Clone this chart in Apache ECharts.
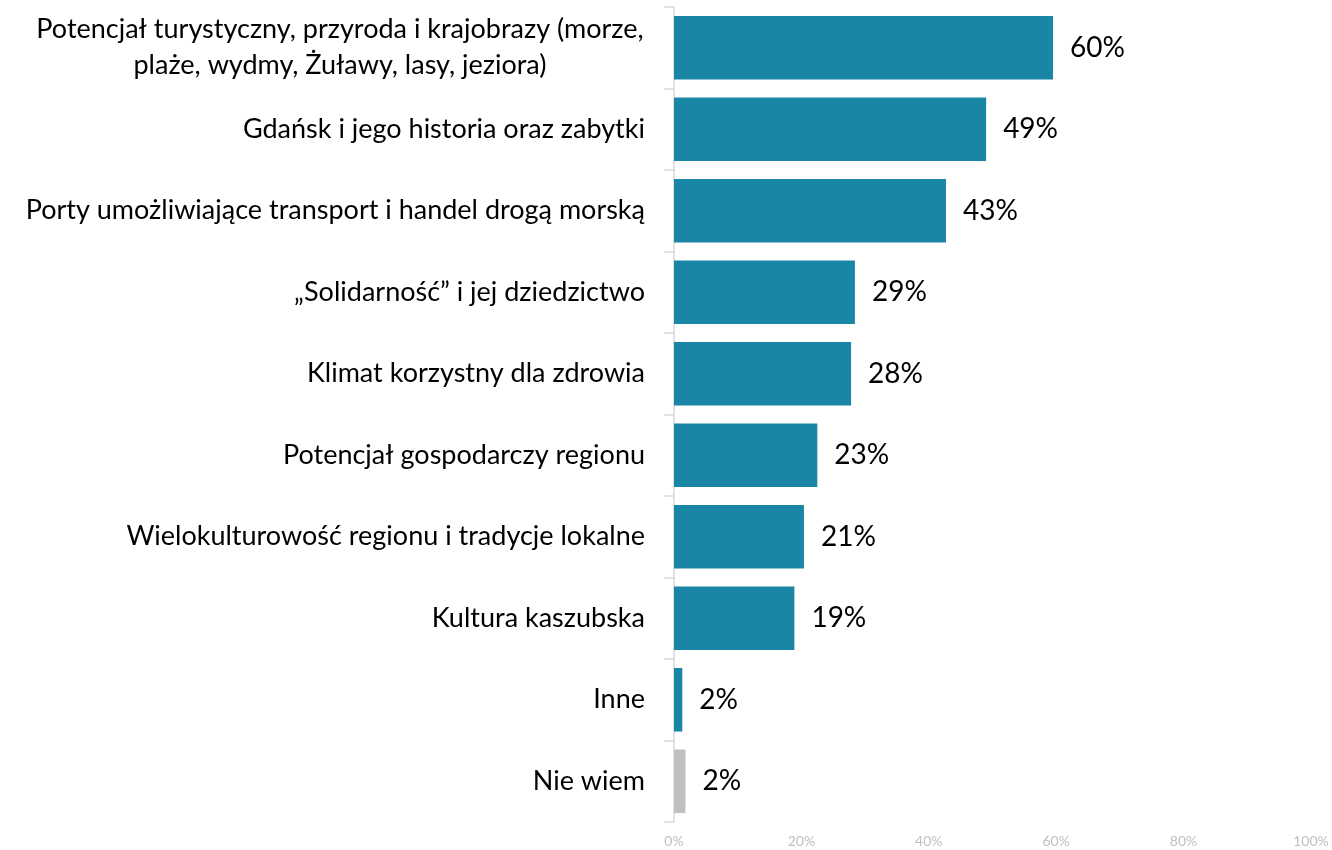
<!DOCTYPE html>
<html>
<head>
<meta charset="utf-8">
<script src="https://cdn.jsdelivr.net/npm/echarts@6/dist/echarts.min.js"></script>
<style>
html,body{margin:0;padding:0;background:#fff;}
#chart{width:1332px;height:850px;}
</style>
</head>
<body>
<div id="chart"></div>
<script>
const categories = [
  "Potencjał turystyczny, przyroda i krajobrazy (morze,\nplaże, wydmy, Żuławy, lasy, jeziora)",
  "Gdańsk i jego historia oraz zabytki",
  "Porty umożliwiające transport i handel drogą morską",
  "„Solidarność” i jej dziedzictwo",
  "Klimat korzystny dla zdrowia",
  "Potencjał gospodarczy regionu",
  "Wielokulturowość regionu i tradycje lokalne",
  "Kultura kaszubska",
  "Inne",
  "Nie wiem"
];
const values = [59.5, 49.0, 42.7, 28.4, 27.8, 22.5, 20.4, 18.9, 1.3, 1.8];
const valueLabels = ["60%", "49%", "43%", "29%", "28%", "23%", "21%", "19%", "2%", "2%"];
const barColors = ["#1A86A5", "#1A86A5", "#1A86A5", "#1A86A5", "#1A86A5", "#1A86A5", "#1A86A5", "#1A86A5", "#1A86A5", "#BFBFBF"];
const xTickValues = [0, 20, 40, 60, 80, 100];

const FONT = "Lato";
const CAT_SIZE = 27;
const VAL_SIZE = 28;

// measure widest line so wrapped lines are centred within the label block
const ctx = document.createElement("canvas").getContext("2d");
ctx.font = CAT_SIZE + "px " + FONT;
function lineWidth(s){ return Math.ceil(ctx.measureText(s).width) + 2; }

const chart = echarts.init(document.getElementById("chart"), null, {renderer: "canvas"});
chart.setOption({
  animation: false,
  backgroundColor: "#ffffff",
  grid: {left: 674, right: 21, top: 7, bottom: 28, containLabel: false},
  xAxis: {
    type: "value",
    min: xTickValues[0],
    max: xTickValues[xTickValues.length - 1],
    interval: xTickValues[1] - xTickValues[0],
    axisLine: {show: false},
    axisTick: {show: false},
    splitLine: {show: false},
    axisLabel: {
      formatter: "{value}%",
      color: "#BFBFBF",
      fontFamily: FONT,
      fontSize: 14,
      margin: 12
    }
  },
  yAxis: {
    type: "category",
    inverse: true,
    data: categories,
    axisLine: {show: true, lineStyle: {color: "#D9D9D9", width: 1.5}},
    axisTick: {show: true, length: 10, lineStyle: {color: "#D9D9D9", width: 1.5}},
    axisLabel: {
      color: "#000000",
      fontFamily: FONT,
      fontSize: CAT_SIZE,
      lineHeight: 36,
      margin: 29,
      formatter: function (v) {
        if (v.indexOf("\n") < 0) return v;
        return v.split("\n").map(function (l) { return "{c|" + l + "}"; }).join("\n");
      },
      rich: (function () {
        let w = 0;
        categories.forEach(function (c) {
          if (c.indexOf("\n") >= 0) c.split("\n").forEach(function (l) { w = Math.max(w, lineWidth(l)); });
        });
        return {c: {width: w, align: "center", color: "#000000", fontFamily: FONT, fontSize: CAT_SIZE, lineHeight: 36}};
      })()
    }
  },
  series: [{
    type: "bar",
    barCategoryGap: "22%",
    data: values.map(function (v, i) { return {value: v, itemStyle: {color: barColors[i]}}; }),
    label: {
      show: true,
      position: "right",
      distance: 17,
      color: "#000000",
      fontFamily: FONT,
      fontSize: VAL_SIZE,
      formatter: function (p) { return valueLabels[p.dataIndex]; }
    }
  }]
});
</script>
</body>
</html>
